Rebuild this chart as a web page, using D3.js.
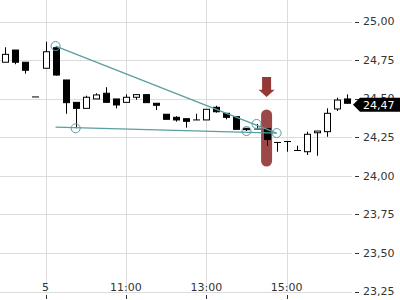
<!DOCTYPE html>
<html>
<head>
<meta charset="utf-8">
<script src="https://cdn.jsdelivr.net/npm/d3@7"></script>
<style>
  html, body { margin: 0; padding: 0; background: #fff; }
  svg { display: block; font-family: "DejaVu Sans", sans-serif; }
</style>
</head>
<body>
<svg id="chart" width="400" height="300"></svg>
<script>
// 15 minute candles, last four of day 4 then day 5
var times = [
  "04 16:30", "04 16:45", "04 17:00", "04 17:15",
  "05 09:00", "05 09:15", "05 09:30", "05 09:45",
  "05 10:00", "05 10:15", "05 10:30", "05 10:45",
  "05 11:00", "05 11:15", "05 11:30", "05 11:45",
  "05 12:00", "05 12:15", "05 12:30", "05 12:45",
  "05 13:00", "05 13:15", "05 13:30", "05 13:45",
  "05 14:00", "05 14:15", "05 14:30", "05 14:45",
  "05 15:00", "05 15:15", "05 15:30", "05 15:45",
  "05 16:00", "05 16:15", "05 16:30"
];
var opens = [24.736, 24.815, 24.736, 24.511, 24.697, 24.830, 24.621, 24.476, 24.437, 24.498,
  24.535, 24.498, 24.476, 24.509, 24.526, 24.470, 24.399, 24.379, 24.370, 24.362,
  24.362, 24.444, 24.405, 24.383, 24.308, 24.303, 24.305, 24.216, 24.222, 24.164,
  24.156, 24.279, 24.286, 24.433, 24.498];
var highs = [24.833, 24.815, 24.736, 24.511, 24.869, 24.841, 24.621, 24.476, 24.519, 24.535,
  24.574, 24.498, 24.528, 24.526, 24.526, 24.470, 24.399, 24.386, 24.370, 24.402,
  24.431, 24.454, 24.405, 24.383, 24.308, 24.336, 24.305, 24.216, 24.222, 24.195,
  24.286, 24.290, 24.437, 24.506, 24.528];
var lows = [24.736, 24.723, 24.662, 24.511, 24.697, 24.649, 24.402, 24.308, 24.437, 24.498,
  24.476, 24.437, 24.476, 24.493, 24.474, 24.426, 24.366, 24.351, 24.312, 24.362,
  24.362, 24.409, 24.366, 24.301, 24.290, 24.303, 24.194, 24.156, 24.156, 24.164,
  24.135, 24.130, 24.253, 24.420, 24.470];
var closes = [24.787, 24.736, 24.684, 24.511, 24.804, 24.653, 24.474, 24.437, 24.509, 24.524,
  24.476, 24.459, 24.509, 24.526, 24.474, 24.457, 24.366, 24.362, 24.353, 24.362,
  24.431, 24.415, 24.379, 24.301, 24.299, 24.303, 24.235, 24.216, 24.222, 24.164,
  24.269, 24.290, 24.405, 24.491, 24.470];

var priceTicks = [23.25, 23.5, 23.75, 24.0, 24.25, 24.5, 24.75, 25.0];
var timeTicks = ["05 09:00", "05 11:00", "05 13:00", "05 15:00"];
var timeTickLabels = ["5", "11:00", "13:00", "15:00"];

// triangle drawing: [time, price]
var upperLine = [["05 09:15", 24.841], ["05 14:45", 24.277]];
var lowerLine = [["05 09:15", 24.316], ["05 14:45", 24.277]];
var anchors = [["05 09:15", 24.841], ["05 09:45", 24.308], ["05 14:00", 24.290],
  ["05 14:15", 24.336], ["05 14:45", 24.277]];
// signal marker on the breakout candle
var signalTime = "05 14:30";
var signalArrow = [24.64, 24.51];
var signalBar = [24.43, 24.06];

var width = 400, height = 300;
var plotRight = 352, plotBottom = 292;
var teal = "#5a9ea0";

var svg = d3.select("#chart");

var x = d3.scalePoint().domain(times).range([0.3, plotRight]).padding(0.5);
var y = d3.scaleLinear().domain([23.25, 25.0]).range([291.5, 21.5]);
var bodyW = 6;

// Grid
svg.append("g").selectAll("line")
  .data(priceTicks)
  .enter()
  .append("line")
  .attr("x1", 0)
  .attr("x2", plotRight)
  .attr("y1", (d) => Math.round(y(d)) + 0.5)
  .attr("y2", (d) => Math.round(y(d)) + 0.5)
  .attr("stroke", "#dcdcdc");

svg.append("g").selectAll("line")
  .data(timeTicks)
  .enter()
  .append("line")
  .attr("x1", (d) => Math.round(x(d)) + 0.5)
  .attr("x2", (d) => Math.round(x(d)) + 0.5)
  .attr("y1", 0)
  .attr("y2", plotBottom)
  .attr("stroke", "#dcdcdc");

// Signal pill behind the candles
var sx = x(signalTime);
svg.append("rect")
  .attr("x", sx - 5.5)
  .attr("y", y(signalBar[0]))
  .attr("width", 11)
  .attr("height", y(signalBar[1]) - y(signalBar[0]))
  .attr("rx", 5.5)
  .attr("fill", "#953838")
  .attr("opacity", 0.92);

// Down arrow
var aTop = y(signalArrow[0]), aTip = y(signalArrow[1]);
var aNeck = aTop + (aTip - aTop) * 0.63;
svg.append("path")
  .attr("d", "M" + (sx - 4.5) + "," + aTop + "H" + (sx + 4.5) + "V" + aNeck +
    "H" + (sx + 8) + "L" + sx + "," + aTip + "L" + (sx - 8) + "," + aNeck +
    "H" + (sx - 4.5) + "Z")
  .attr("fill", "#953838");

// Candles
var candles = times.map((t, i) => ({ t: t, o: opens[i], h: highs[i], l: lows[i], c: closes[i] }));

var g = svg.append("g");
g.selectAll(".wick")
  .data(candles)
  .enter()
  .append("line")
  .attr("class", "wick")
  .attr("x1", (d) => Math.round(x(d.t)) + 0.5)
  .attr("x2", (d) => Math.round(x(d.t)) + 0.5)
  .attr("y1", (d) => y(d.h))
  .attr("y2", (d) => y(d.l))
  .attr("stroke", "#000");

g.selectAll(".body")
  .data(candles)
  .enter()
  .append("rect")
  .attr("class", "body")
  .attr("x", (d) => Math.round(x(d.t)) - bodyW / 2 + 0.5)
  .attr("y", (d) => y(Math.max(d.o, d.c)))
  .attr("width", bodyW)
  .attr("height", (d) => Math.max(0.01, Math.abs(y(d.o) - y(d.c))))
  .attr("fill", (d) => (d.c > d.o ? "#fff" : "#000"))
  .attr("stroke", "#000")
  .attr("stroke-width", 1);

// Trendlines
var line = d3.line().x((d) => x(d[0])).y((d) => y(d[1]));
[upperLine, lowerLine].forEach(function (pts) {
  svg.append("path")
    .attr("d", line(pts))
    .attr("fill", "none")
    .attr("stroke", teal)
    .attr("stroke-width", 1.3);
});
svg.append("g").selectAll("circle")
  .data(anchors)
  .enter()
  .append("circle")
  .attr("cx", (d) => x(d[0]))
  .attr("cy", (d) => y(d[1]))
  .attr("r", 4.5)
  .attr("fill", "none")
  .attr("stroke", teal)
  .attr("stroke-width", 1);

// Right price axis
var yAxis = svg.append("g");
yAxis.selectAll("line")
  .data(priceTicks)
  .enter()
  .append("line")
  .attr("x1", 355)
  .attr("x2", 359)
  .attr("y1", (d) => Math.round(y(d)) + 0.5)
  .attr("y2", (d) => Math.round(y(d)) + 0.5)
  .attr("stroke", "#333");
yAxis.selectAll("text")
  .data(priceTicks)
  .enter()
  .append("text")
  .attr("x", 363)
  .attr("y", (d) => y(d))
  .attr("dy", "0.35em")
  .attr("font-size", 11)
  .attr("fill", "#333")
  .text((d) => d.toFixed(2).replace(".", ","));

// Bottom time axis
var xAxis = svg.append("g");
xAxis.selectAll("line")
  .data(timeTicks)
  .enter()
  .append("line")
  .attr("x1", (d) => Math.round(x(d)) + 0.5)
  .attr("x2", (d) => Math.round(x(d)) + 0.5)
  .attr("y1", 295)
  .attr("y2", 299)
  .attr("stroke", "#333");
xAxis.selectAll("text")
  .data(timeTicks)
  .enter()
  .append("text")
  .attr("x", (d) => x(d))
  .attr("y", 287)
  .attr("dy", "0.35em")
  .attr("text-anchor", "middle")
  .attr("font-size", 11)
  .attr("fill", "#333")
  .text((d, i) => timeTickLabels[i]);

// Last price tag
var last = closes[closes.length - 1];
var ly = y(last) + 1.5;
svg.append("path")
  .attr("d", "M353," + ly + "L360," + (ly - 7) + "H400V" + (ly + 7) + "H360Z")
  .attr("fill", "#000");
svg.append("text")
  .attr("x", 363)
  .attr("y", ly)
  .attr("dy", "0.35em")
  .attr("font-size", 11)
  .attr("fill", "#fff")
  .text(last.toFixed(2).replace(".", ","));
</script>
</body>
</html>
